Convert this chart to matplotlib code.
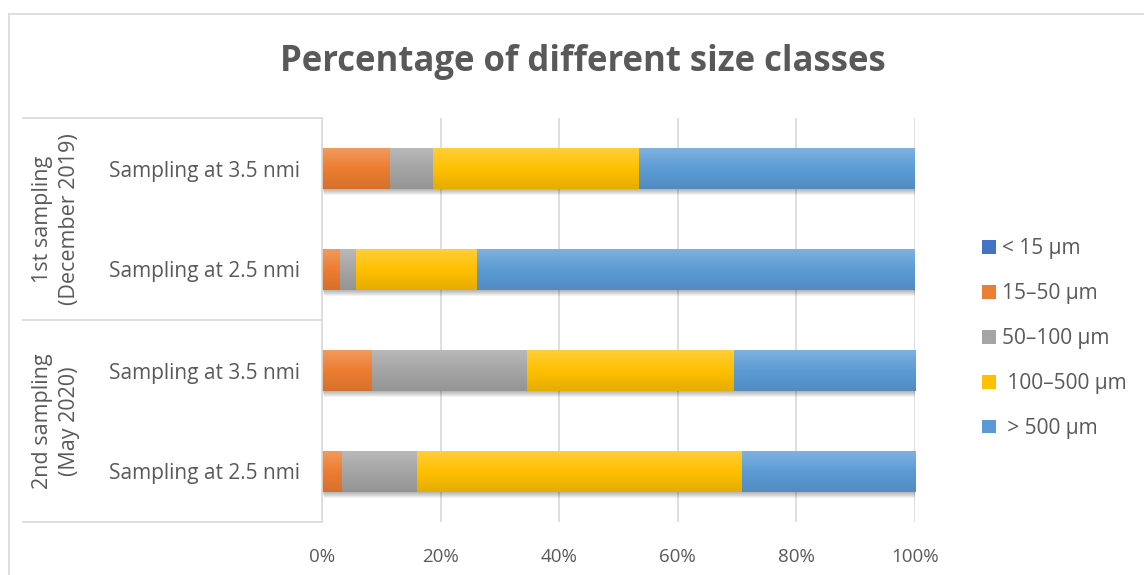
import numpy as np
import matplotlib
matplotlib.use("Agg")
import matplotlib.pyplot as plt
from matplotlib.lines import Line2D
from matplotlib.patches import Rectangle
from matplotlib.ticker import PercentFormatter
from matplotlib.colors import to_rgb

plt.rcParams['font.family'] = ['Open Sans', 'DejaVu Sans']

# Samples, listed top to bottom
samples = ["Sampling at 3.5 nmi", "Sampling at 2.5 nmi",
           "Sampling at 3.5 nmi", "Sampling at 2.5 nmi"]
groups = ["1st sampling\n(December 2019)", "2nd sampling\n(May 2020)"]

# Share (%) of each size class per sample
lt15 = [0.0, 0.0, 0.0, 0.0]
s15_50 = [11.4, 3.1, 8.5, 3.4]
s50_100 = [7.3, 2.65, 26.0, 12.7]
s100_500 = [34.8, 20.45, 34.9, 54.7]
gt500 = [46.5, 73.8, 30.6, 29.2]

class_labels = ["< 15 µm", "15–50 µm", "50–100 µm", " 100–500 µm", " > 500 µm"]
class_colors = ["#4472C4", "#ED7D31", "#A5A5A5", "#FFC000", "#5B9BD5"]

TEXT = "#595959"
GRID = "#D9D9D9"

W, H = 1144, 575
fig = plt.figure(figsize=(W / 100, H / 100), dpi=100)
fig.patch.set_facecolor("white")

# plot area in pixel terms
x0, x1, ytop, ybot = 322, 915, 118, 522
ax = fig.add_axes([x0 / W, 1 - ybot / H, (x1 - x0) / W, (ybot - ytop) / H])

ypos = np.arange(len(samples))
height = 0.4
px = 4.0 / (ybot - ytop)  # one pixel in data units (y)
pxx = 100.0 / (x1 - x0)   # one pixel in data units (x)

# soft drop shadow under each full bar
totals = np.array(lt15) + np.array(s15_50) + np.array(s50_100) + np.array(s100_500) + np.array(gt500)
for y, tot in zip(ypos, totals):
    for k in range(1, 7):
        ax.add_patch(Rectangle((0 + k * 0.3 * pxx, y - height / 2 + k * px), tot, height,
                               facecolor="black", alpha=0.05, linewidth=0, zorder=1.5))

series = [lt15, s15_50, s50_100, s100_500, gt500]
left = np.zeros(len(samples))
containers = []
for vals, lab, col in zip(series, class_labels, class_colors):
    bc = ax.barh(ypos, vals, height=height, left=left, color=col, label=lab,
                 linewidth=0, zorder=2)
    containers.append(bc)
    base = np.array(to_rgb(col))
    # vertical gradient: lighter at the top edge, slightly darker at the bottom
    t = np.linspace(0, 1, 64)[:, None]
    light = base + (1 - base) * 0.22
    dark = base * 0.9
    grad = np.where(t < 0.5, light + (base - light) * (t / 0.5),
                    base + (dark - base) * ((t - 0.5) / 0.5))
    img = np.repeat(grad[:, None, :], 2, axis=1)
    for patch, v, l0, y in zip(bc.patches, vals, left, ypos):
        if v <= 0:
            continue
        im = ax.imshow(img, extent=[l0, l0 + v, y + height / 2, y - height / 2],
                       aspect="auto", zorder=2.1, interpolation="bilinear")
        im.set_clip_path(patch)
    left = left + np.array(vals)

ax.set_xlim(0, 100)
ax.set_ylim(len(samples) - 0.5, -0.5)
ax.set_aspect("auto")

ax.xaxis.set_major_formatter(PercentFormatter(decimals=0))
ax.set_xticks(np.arange(0, 101, 20))
ax.set_yticks(ypos)
ax.set_yticklabels(samples)
ax.tick_params(axis="y", length=0, pad=16, labelsize=15, labelcolor=TEXT)
ax.tick_params(axis="x", length=0, pad=19, labelsize=13.5, labelcolor=TEXT)
ax.grid(axis="x", color=GRID, linewidth=1.2, zorder=0)
ax.set_axisbelow(True)
for s in ["top", "right", "bottom"]:
    ax.spines[s].set_visible(False)
ax.spines["left"].set_color(GRID)
ax.spines["left"].set_linewidth(1.2)

# category table on the left
xl = (23 - x0) / (x1 - x0)
for yf in [0.0, 0.5, 1.0]:
    ax.add_line(Line2D([xl, 0], [yf, yf], transform=ax.transAxes, color=GRID,
                       linewidth=1.2, clip_on=False))
gx = (56 - x0) / (x1 - x0)
for i, g in enumerate(groups):
    ax.text(gx, 0.75 - 0.5 * i, g, transform=ax.transAxes, rotation=90,
            ha="center", va="center", multialignment="center",
            fontsize=15.5, color=TEXT, linespacing=1.35)

# chart border
fig.add_artist(Line2D([9 / W, 9 / W], [0, 1 - 14 / H], color=GRID, linewidth=1.2))
fig.add_artist(Line2D([9 / W, 1], [1 - 14 / H, 1 - 14 / H], color=GRID, linewidth=1.2))

fig.text(583 / W, 1 - 62 / H, "Percentage of different size classes",
         ha="center", va="center", fontsize=25, fontweight="bold", color=TEXT)

leg = fig.legend(handles=containers, labels=class_labels,
                 loc="upper left", bbox_to_anchor=(982 / W, 1 - 238 / H),
                 frameon=False, fontsize=15, labelcolor=TEXT,
                 handlelength=0.65, handleheight=0.65, handletextpad=0.3,
                 labelspacing=1.15, borderaxespad=0, borderpad=0)

fig.savefig("out.png", dpi=100, facecolor="white")
